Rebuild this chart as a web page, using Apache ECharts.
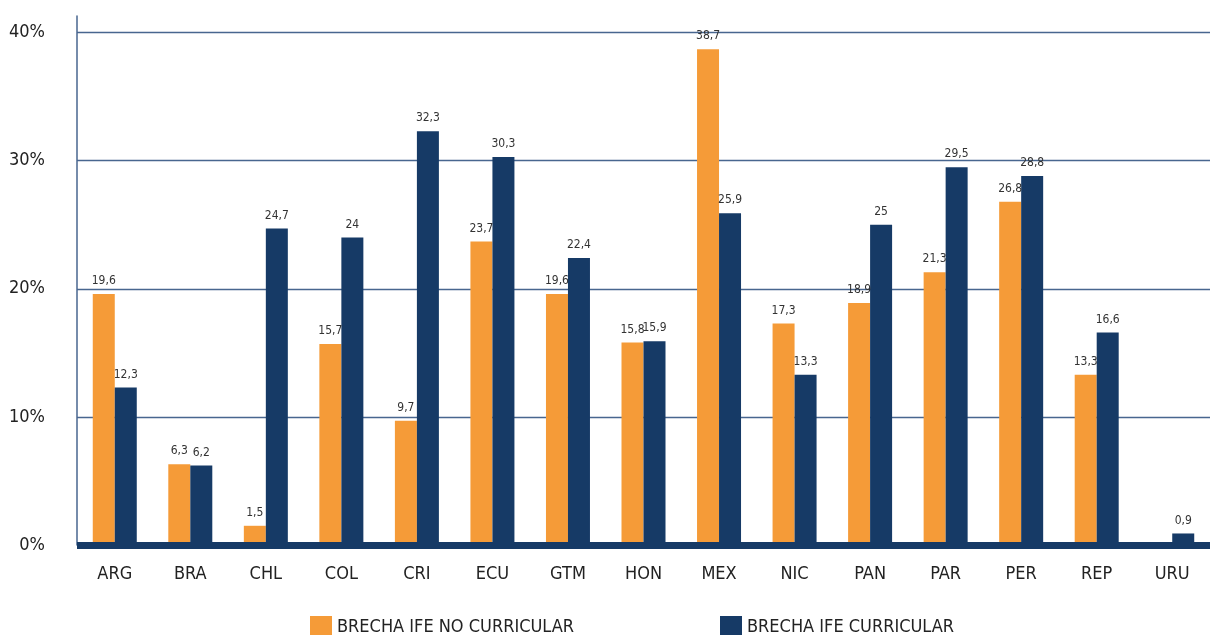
<!DOCTYPE html>
<html><head><meta charset="utf-8">
<script src="https://cdn.jsdelivr.net/npm/echarts@6/dist/echarts.min.js"></script>
<style>html,body{margin:0;padding:0;background:#fff}#c{width:1210px;height:635px}</style>
</head><body><div id="c"></div>
<script>
const categories = ['ARG','BRA','CHL','COL','CRI','ECU','GTM','HON','MEX','NIC','PAN','PAR','PER','REP','URU'];
const noCurricular = [19.6,6.3,1.5,15.7,9.7,23.7,19.6,15.8,38.7,17.3,18.9,21.3,26.8,13.3,null];
const curricular = [12.3,6.2,24.7,24,32.3,30.3,22.4,15.9,25.9,13.3,25,29.5,28.8,16.6,0.9];
const seriesNames = ['BRECHA IFE NO CURRICULAR','BRECHA IFE CURRICULAR'];
const yTicks = [0,10,20,30,40];

const FONT = "'Liberation Sans Narrow','DejaVu Sans Condensed','Roboto',sans-serif";
const ORANGE = '#F59B38';
const NAVY = '#163A66';
const GRIDC = '#48668F';

const chart = echarts.init(document.getElementById('c'));
const lbl = {
  show: true, position: 'top', distance: 7,
  color: '#333', fontFamily: FONT, fontSize: 12,
  formatter: p => p.value == null ? '' : String(p.value).replace('.', ',')
};
chart.setOption({
  animation: false,
  textStyle: {fontFamily: FONT},
  grid: {left: 77, right: -11, top: 16, bottom: 90, containLabel: false},
  legend: [
    {data: [seriesNames[0]], left: 305, top: 611, itemWidth: 22, itemHeight: 22, itemGap: 10, icon: 'rect',
     textStyle: {fontFamily: FONT, fontSize: 18, color: '#222'}},
    {data: [seriesNames[1]], left: 715, top: 611, itemWidth: 22, itemHeight: 22, itemGap: 10, icon: 'rect',
     textStyle: {fontFamily: FONT, fontSize: 18, color: '#222'}}
  ],
  xAxis: {
    type: 'category', data: categories, z: 5,
    axisLine: {show: true, lineStyle: {color: NAVY, width: 7, cap: 'butt'}},
    axisTick: {show: false},
    axisLabel: {color: '#222', fontFamily: FONT, fontSize: 18, margin: 20}
  },
  yAxis: {
    type: 'value', min: 0, max: 41.3, interval: 10,
    axisLine: {show: true, lineStyle: {color: GRIDC, width: 1.5}},
    axisTick: {show: false},
    axisLabel: {color: '#222', fontFamily: FONT, fontSize: 18, margin: 32,
      showMaxLabel: false,
      formatter: v => yTicks.includes(v) ? v + '%' : ''},
    splitLine: {show: true, showMaxLine: false, lineStyle: {color: GRIDC, width: 1.4}}
  },
  series: [
    {name: seriesNames[0], type: 'bar', data: noCurricular, barWidth: 22, barGap: '0%',
     itemStyle: {color: ORANGE}, label: lbl},
    {name: seriesNames[1], type: 'bar', data: curricular, barWidth: 22, barGap: '0%',
     itemStyle: {color: NAVY}, label: lbl}
  ]
});
</script></body></html>
